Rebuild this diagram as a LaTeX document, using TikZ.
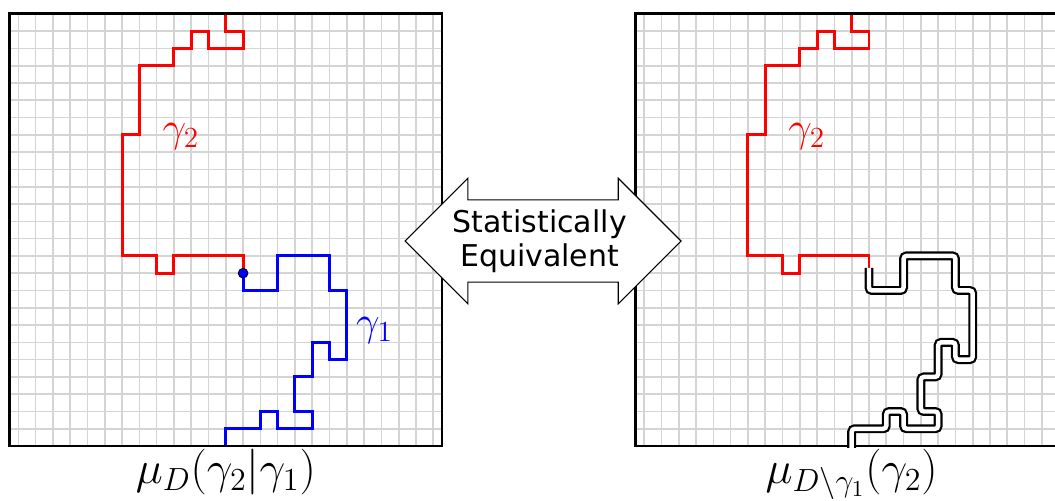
\RequirePackage{fix-cm}
\documentclass[tikz,border=0pt]{standalone}
\usepackage{fontspec}
\newfontfamily\dejavu{DejaVu Sans}
\definecolor{gc}{RGB}{212,212,212}
\tikzset{gl/.style={draw=gc,line width=.8pt},frame/.style={line width=1.4pt},
 g2/.style={red,line width=1.45pt},g1/.style={blue,line width=1.45pt},
 cut/.style={double=white,double distance=2.2pt,line width=1.1pt,rounded corners=1.5pt},
 dot/.style={circle,draw,fill=blue,line width=.4pt,inner sep=0pt,minimum size=4.8pt},
 lab/.style={font=\huge,inner sep=0pt},mu/.style={font=\fontsize{22.6}{27}\selectfont,inner sep=0pt,anchor=north},
 arr/.style={draw,fill=white,line width=.55pt},
 eqtxt/.style={font=\dejavu\fontsize{14.8}{16.5}\selectfont,align=center}}
\newcommand\lattice{\foreach \i in {0,...,24} \draw[gl] (\i,0)--(\i,25);
 \foreach \j in {1,...,24} \draw[gl] (-.5,\j)--(24.5,\j);}

\begin{document}
\begin{tikzpicture}[x=.3cm,y=.3cm]
\useasboundingbox (-1.06,-3.12) rectangle (59.96,25.8);
% left panel: gamma_2 conditioned on gamma_1
\lattice
\draw[g2] (12,25)--(12,24)--(13,24)--(13,23)--(11,23)--(11,24)--(10,24)--(10,23)--(9,23)--(9,22)--(7,22)--(7,18)--(6,18)--(6,11)--(8,11)--(8,10)--(9,10)--(9,11)--(13,11)--(13,10);
\draw[g1] (13,10)--(13,9)--(15,9)--(15,11)--(18,11)--(18,9)--(19,9)--(19,5)--(18,5)--(18,6)--(17,6)--(17,4)--(16,4)--(16,2)--(17,2)--(17,1)--(15,1)--(15,2)--(14,2)--(14,1)--(12,1)--(12,0);
\draw[frame] (-.5,0) rectangle (24.5,25);
\node[dot] (tip) at (13,10) {};
\node[lab,red] (g2L) at (9.4,17.9) {$\gamma_2$};
\node[lab,blue] (g1L) at (20.6,6.7) {$\gamma_1$};
\node[mu] (muL) at (12,-.16) {$\mu_D(\gamma_2|\gamma_1)$};
% right panel: gamma_2 in the slit domain
\begin{scope}[shift={(36.2,0)}]
\lattice
\draw[g2] (12,25)--(12,24)--(13,24)--(13,23)--(11,23)--(11,24)--(10,24)--(10,23)--(9,23)--(9,22)--(7,22)--(7,18)--(6,18)--(6,11)--(8,11)--(8,10)--(9,10)--(9,11)--(13,11)--(13,10.3);
\draw[frame] (-.5,0) rectangle (24.5,25);
\draw[cut] (13,10.3)--(13,9)--(15,9)--(15,11)--(18,11)--(18,9)--(19,9)--(19,5)--(18,5)--(18,6)--(17,6)--(17,4)--(16,4)--(16,2)--(17,2)--(17,1)--(15,1)--(15,2)--(14,2)--(14,1)--(12,1)--(12,-.1);
\node[lab,red] (g2R) at (9.4,17.9) {$\gamma_2$};
\node[mu] (muR) at (12,-.16) {$\mu_{D\setminus\gamma_1}(\gamma_2)$};
\end{scope}
% double arrow
\coordinate (eqc) at (30.35,11.86);
\draw[arr,shift={(eqc)}] (-7.98,0)--(-4.35,3.63)--(-4.35,2.38)--(4.35,2.38)--(4.35,3.63)--(7.98,0)--(4.35,-3.63)--(4.35,-2.38)--(-4.35,-2.38)--(-4.35,-3.63)--cycle;
\node[eqtxt] (eq) at (30.15,11.86) {Statistically\\Equivalent};
\end{tikzpicture}
\end{document}
